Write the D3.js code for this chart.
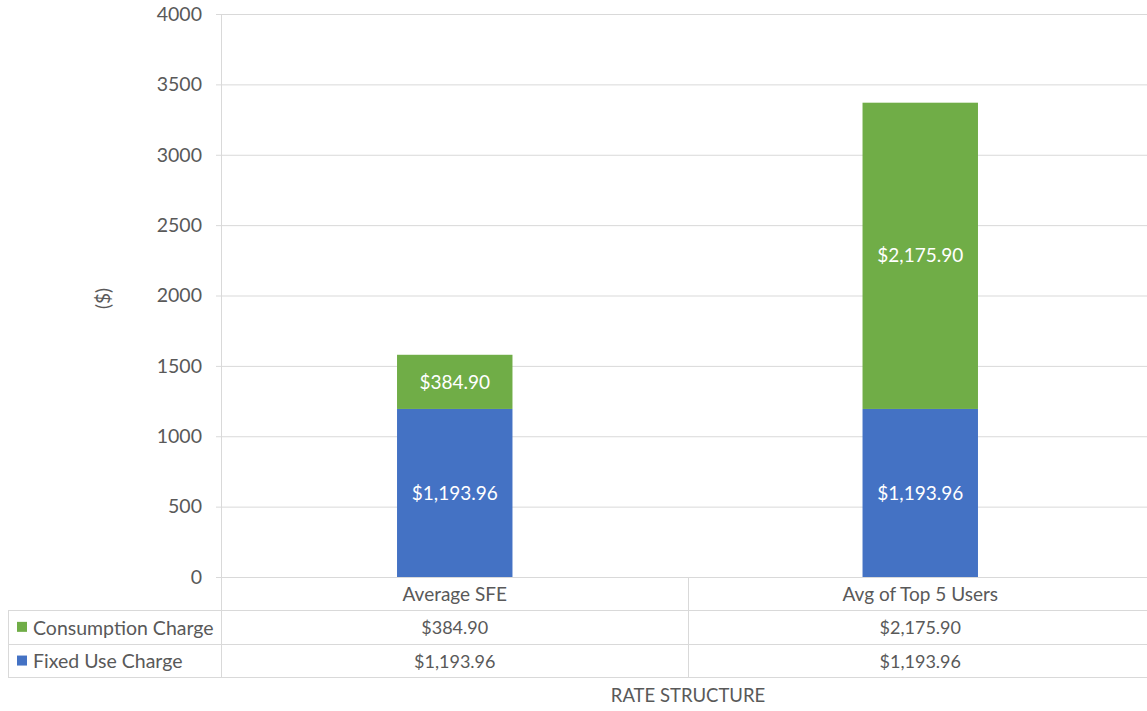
<!DOCTYPE html>
<html>
<head>
<meta charset="utf-8">
<script src="https://cdn.jsdelivr.net/npm/d3@7/dist/d3.min.js"></script>
<style>
  html, body { margin: 0; padding: 0; background: #fff; }
  svg { display: block; font-family: Lato, "Open Sans", sans-serif; }
</style>
</head>
<body>
<svg id="chart" width="1147" height="711"></svg>
<script>
// Categories and stacked series (bottom to top)
const categories = ["Average SFE", "Avg of Top 5 Users"];
const fixedUse = [1193.96, 1193.96];
const consumption = [384.90, 2175.90];
const seriesNames = ["Fixed Use Charge", "Consumption Charge"];
const seriesColors = ["#4472C4", "#70AD47"];
const yTicks = [0, 500, 1000, 1500, 2000, 2500, 3000, 3500, 4000];
const yTitle = "($)";
const xTitle = "RATE STRUCTURE";

const svg = d3.select("#chart");
const textColor = "#595959";
const gridColor = "#d9d9d9";

const plot = { left: 222, right: 1153, top: 14, bottom: 577 };
const table = { left: 8, top: 610, rowH: 33.7 };

const x = d3.scaleBand()
  .domain(categories)
  .range([plot.left, plot.right])
  .paddingInner(0.752)
  .paddingOuter(0.376);
const step = x.step();
const y = d3.scaleLinear().domain([0, 4000]).range([plot.bottom, plot.top]);

const fmt = v => "$" + d3.format(",.2f")(v);

// Gridlines with short tick stubs on the left
svg.append("g").selectAll("line").data(yTicks).join("line")
  .attr("x1", plot.left - 6).attr("x2", 1147)
  .attr("y1", d => y(d) + 0.5).attr("y2", d => y(d) + 0.5)
  .attr("stroke", gridColor).attr("stroke-width", 1);

// Y tick labels
svg.append("g").selectAll("text").data(yTicks).join("text")
  .attr("x", 202).attr("y", d => y(d))
  .attr("dy", "0.35em")
  .attr("text-anchor", "end")
  .attr("fill", textColor)
  .style("font-size", "19.5px")
  .text(d => d);

// Y axis title
svg.append("text")
  .attr("transform", `translate(110,${(plot.top + plot.bottom) / 2 + 3}) rotate(-90)`)
  .attr("text-anchor", "middle")
  .attr("fill", textColor)
  .style("font-size", "19px")
  .text(yTitle);

// Stacked bars
const rows = categories.map((c, i) => ({ cat: c, fixed: fixedUse[i], cons: consumption[i] }));
const stack = d3.stack().keys(["fixed", "cons"])(rows);

stack.forEach((layer, li) => {
  const g = svg.append("g");
  g.selectAll("rect").data(layer).join("rect")
    .attr("x", d => x(d.data.cat))
    .attr("width", x.bandwidth())
    .attr("y", d => y(d[1]))
    .attr("height", d => y(d[0]) - y(d[1]))
    .attr("fill", seriesColors[li]);
  g.selectAll("text").data(layer).join("text")
    .attr("x", d => x(d.data.cat) + x.bandwidth() / 2)
    .attr("y", d => (y(d[0]) + y(d[1])) / 2)
    .attr("dy", "0.35em")
    .attr("text-anchor", "middle")
    .attr("fill", "#ffffff")
    .style("font-size", "19px")
    .text(d => fmt(d[1] - d[0]));
});

// Vertical axis line, category separators and data table borders
const border = svg.append("g").attr("stroke", gridColor).attr("stroke-width", 1).attr("fill", "none");
const tableBottom = table.top + 2 * table.rowH;
border.append("line").attr("x1", plot.left - 0.5).attr("x2", plot.left - 0.5)
  .attr("y1", plot.top).attr("y2", tableBottom);
categories.slice(1).forEach((c, i) => {
  const sep = Math.round(x(categories[i]) + x.bandwidth() / 2 + step / 2) + 0.5;
  border.append("line").attr("x1", sep).attr("x2", sep)
    .attr("y1", plot.bottom).attr("y2", tableBottom);
});
[table.top, table.top + table.rowH, tableBottom].forEach(yy => {
  border.append("line").attr("x1", table.left).attr("x2", 1147)
    .attr("y1", Math.round(yy) + 0.5).attr("y2", Math.round(yy) + 0.5);
});
border.append("line").attr("x1", table.left + 0.5).attr("x2", table.left + 0.5)
  .attr("y1", table.top).attr("y2", tableBottom);

// Category labels above the table
svg.append("g").selectAll("text").data(categories).join("text")
  .attr("x", d => x(d) + x.bandwidth() / 2)
  .attr("y", (plot.bottom + table.top) / 2 + 1)
  .attr("dy", "0.35em")
  .attr("text-anchor", "middle")
  .attr("fill", textColor)
  .style("font-size", "19px")
  .text(d => d);

// Table rows: legend key + values (top row is the top series)
const tableRows = [
  { name: seriesNames[1], color: seriesColors[1], values: consumption },
  { name: seriesNames[0], color: seriesColors[0], values: fixedUse }
];
tableRows.forEach((r, ri) => {
  const cy = table.top + table.rowH * (ri + 0.5);
  svg.append("rect")
    .attr("x", 17).attr("y", cy - 5).attr("width", 10).attr("height", 10)
    .attr("fill", r.color);
  svg.append("text")
    .attr("x", 33).attr("y", cy + 1).attr("dy", "0.35em")
    .attr("fill", textColor).style("font-size", "19.5px")
    .text(r.name);
  svg.append("g").selectAll("text").data(r.values).join("text")
    .attr("x", (d, i) => x(categories[i]) + x.bandwidth() / 2)
    .attr("y", cy + 1).attr("dy", "0.35em")
    .attr("text-anchor", "middle")
    .attr("fill", textColor).style("font-size", "18px")
    .text(d => fmt(d));
});

// X axis title
svg.append("text")
  .attr("x", 688).attr("y", 696).attr("dy", "0.35em")
  .attr("text-anchor", "middle")
  .attr("fill", textColor).style("font-size", "18.5px")
  .text(xTitle);
</script>
</body>
</html>
